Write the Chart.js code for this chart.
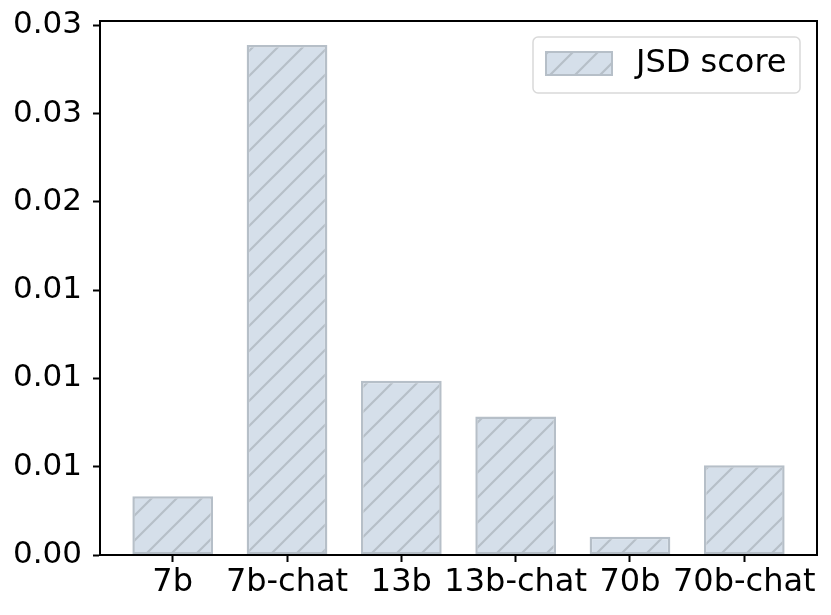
<!DOCTYPE html>
<html lang="en">
<head>
    <meta charset="UTF-8">
    <title>JSD score</title>
    <script src="https://cdn.jsdelivr.net/npm/chart.js"></script>
    <style>
        html, body { margin: 0; padding: 0; background: #fff; }
        #wrap { width: 831px; height: 615px; }
    </style>
</head>
<body>
<div id="wrap"><canvas id="grafico" width="831" height="615"></canvas></div>
<script>
    // datos del grafico
    const categorias = ['7b', '7b-chat', '13b', '13b-chat', '70b', '70b-chat'];
    const jsdScore = [0.00332, 0.02888, 0.00987, 0.00785, 0.00104, 0.00508];
    const yTicks = [0, 0.005, 0.010, 0.015, 0.020, 0.025, 0.030];
    const yTickLabels = ['0.00', '0.01', '0.01', '0.01', '0.02', '0.03', '0.03'];

    const fuente = '"DejaVu Sans", sans-serif';
    const relleno = '#d5dfea';
    const borde = '#b6bfc8';

    // patron de rayas '/'
    function hacerPatron() {
        const paso = 25;
        const c = document.createElement('canvas');
        c.width = paso; c.height = paso;
        const g = c.getContext('2d');
        g.fillStyle = relleno;
        g.fillRect(0, 0, paso, paso);
        g.strokeStyle = borde;
        g.lineWidth = 2.2;
        g.beginPath();
        for (let k = -1; k <= 1; k++) {
            g.moveTo(k * paso - 2, paso + 2);
            g.lineTo(k * paso + paso + 2, -2);
        }
        g.stroke();
        return g.createPattern(c, 'repeat');
    }
    const patron = hacerPatron();

    // marco completo y leyenda dentro del area
    const marcoYLeyenda = {
        id: 'marcoYLeyenda',
        afterDraw(chart) {
            const ctx = chart.ctx;
            const a = chart.chartArea;
            ctx.save();
            ctx.strokeStyle = '#000';
            ctx.lineWidth = 2;
            ctx.strokeRect(a.left, a.top, a.right - a.left, a.bottom - a.top);

            // leyenda
            const x = 533, y = 37, w = 267, h = 56;
            ctx.beginPath();
            ctx.roundRect(x, y, w, h, 5);
            ctx.fillStyle = 'rgba(255,255,255,0.8)';
            ctx.fill();
            ctx.strokeStyle = '#d9d9d9';
            ctx.lineWidth = 1.5;
            ctx.stroke();

            ctx.fillStyle = patron;
            ctx.fillRect(546, 52, 66, 23);
            ctx.strokeStyle = borde;
            ctx.lineWidth = 2;
            ctx.strokeRect(546, 52, 66, 23);

            ctx.fillStyle = '#000';
            ctx.font = '32px ' + fuente;
            ctx.textBaseline = 'middle';
            ctx.textAlign = 'left';
            ctx.fillText(chart.data.datasets[0].label, 636, 64);
            ctx.restore();
        }
    };

    new Chart(document.getElementById('grafico'), {
        type: 'bar',
        data: {
            datasets: [{
                label: 'JSD score',
                data: jsdScore.map((v, i) => ({ x: i, y: v })),
                backgroundColor: patron,
                borderColor: borde,
                borderWidth: 2.5,
                borderSkipped: false,
                barPercentage: 0.706,
                categoryPercentage: 1
            }]
        },
        options: {
            responsive: false,
            animation: false,
            layout: { padding: { top: 21, right: 14, left: 0, bottom: 0 } },
            plugins: { legend: { display: false }, tooltip: { enabled: false } },
            scales: {
                x: {
                    type: 'linear',
                    offset: false,
                    min: -0.636,
                    max: 5.636,
                    afterBuildTicks: s => { s.ticks = categorias.map((c, i) => ({ value: i })); },
                    afterFit: s => { s.height = 60; s.paddingLeft = 0; s.paddingRight = 0; },
                    grid: { offset: false, drawOnChartArea: false, drawTicks: true, tickLength: 7, color: '#000', tickWidth: 2 },
                    border: { display: true, color: '#000', width: 2 },
                    ticks: {
                        color: '#000',
                        font: { family: fuente, size: 32 },
                        padding: 1,
                        maxRotation: 0,
                        autoSkip: false,
                        callback: v => categorias[v]
                    }
                },
                y: {
                    min: 0,
                    max: 0.03024,
                    afterBuildTicks: s => { s.ticks = yTicks.map(v => ({ value: v })); },
                    afterFit: s => { s.width = 100; s.paddingTop = 0; s.paddingBottom = 0; },
                    grid: { drawOnChartArea: false, drawTicks: true, tickLength: 7, color: '#000', tickWidth: 2 },
                    border: { display: true, color: '#000', width: 2 },
                    ticks: {
                        color: '#000',
                        font: { family: fuente, size: 31 },
                        padding: 11,
                        callback: (v, i) => yTickLabels[i]
                    }
                }
            }
        },
        plugins: [marcoYLeyenda]
    });
</script>
</body>
</html>
